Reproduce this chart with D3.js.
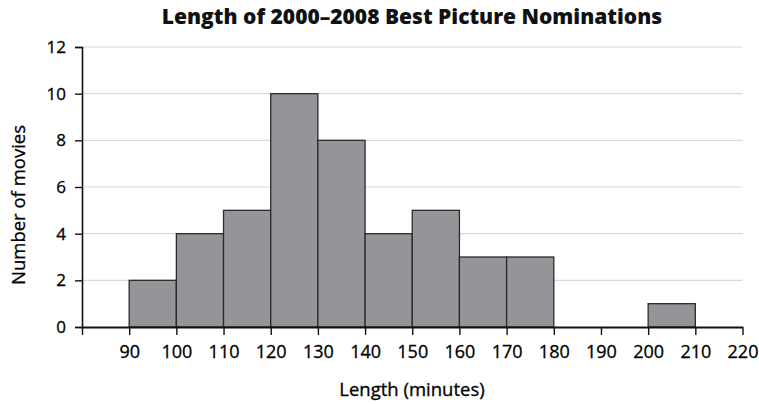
<!DOCTYPE html>
<html><head><meta charset="utf-8">
<script src="https://cdn.jsdelivr.net/npm/d3@7"></script>
<style>body{margin:0;background:#fff}svg{display:block}</style>
</head><body>
<svg id="c" width="759" height="404"></svg>
<script>
const binStarts = [90,100,110,120,130,140,150,160,170,180,190,200];
const counts    = [2,4,5,10,8,4,5,3,3,0,0,1];
const xTicks = [80,90,100,110,120,130,140,150,160,170,180,190,200,210,220];
const yTicks = [0,2,4,6,8,10,12];
const binWidth = 10;

const svg = d3.select("#c");
const font = "'Open Sans', 'Noto Sans', sans-serif";
const x = d3.scaleLinear().domain([80,220]).range([82,742.5]);
const y = d3.scaleLinear().domain([0,12]).range([327,47]);

// gridlines
svg.append("g").selectAll("line").data(yTicks.filter(d=>d>0)).join("line")
  .attr("x1",x(80)).attr("x2",x(220)).attr("y1",d=>y(d)).attr("y2",d=>y(d))
  .attr("stroke","#d9d9d9").attr("stroke-width",1.2);

// bars
const data = binStarts.map((s,i)=>({s,c:counts[i]})).filter(d=>d.c>0);
svg.append("g").selectAll("rect").data(data).join("rect")
  .attr("x",d=>x(d.s)).attr("width",d=>x(d.s+binWidth)-x(d.s))
  .attr("y",d=>y(d.c)).attr("height",d=>y(0)-y(d.c))
  .attr("fill","#939598").attr("stroke","#2b2b2b").attr("stroke-width",1.3);

// y axis
const ya = svg.append("g").attr("transform",`translate(${x(80)},0)`)
  .call(d3.axisLeft(y).tickValues(yTicks).tickSize(7).tickPadding(9).tickFormat(d3.format("d")));
ya.select(".domain").attr("stroke","#111").attr("stroke-width",1.6);
ya.selectAll(".tick line").attr("stroke","#111").attr("stroke-width",1.4);
ya.selectAll("text").attr("font-family",font).attr("font-size",17).attr("fill","#000")
  .attr("stroke","#000").attr("stroke-width",0.3);

// x axis
const xa = svg.append("g").attr("transform",`translate(0,${y(0)})`)
  .call(d3.axisBottom(x).tickValues(xTicks).tickSize(8).tickSizeOuter(0).tickPadding(10)
    .tickFormat(d=>d===80?"":d));
xa.select(".domain").attr("stroke","#111").attr("stroke-width",1.8);
xa.selectAll(".tick line").attr("stroke","#111").attr("stroke-width",1.4);
xa.selectAll("text").attr("font-family",font).attr("font-size",18).attr("fill","#000")
  .attr("stroke","#000").attr("stroke-width",0.3);

// titles
svg.append("text").attr("x",412).attr("y",24).attr("text-anchor","middle")
  .attr("font-family",font).attr("font-weight",800).attr("font-size",21).attr("fill","#111")
  .text("Length of 2000\u20132008 Best Picture Nominations");
svg.append("text").attr("x",412).attr("y",396).attr("text-anchor","middle")
  .attr("font-family",font).attr("font-size",18.5).attr("fill","#000")
  .attr("stroke","#000").attr("stroke-width",0.3)
  .text("Length (minutes)");
svg.append("text").attr("transform","translate(25,205) rotate(-90)").attr("text-anchor","middle")
  .attr("font-family",font).attr("font-size",18.5).attr("fill","#000")
  .attr("stroke","#000").attr("stroke-width",0.3)
  .text("Number of movies");
</script>
</body></html>
